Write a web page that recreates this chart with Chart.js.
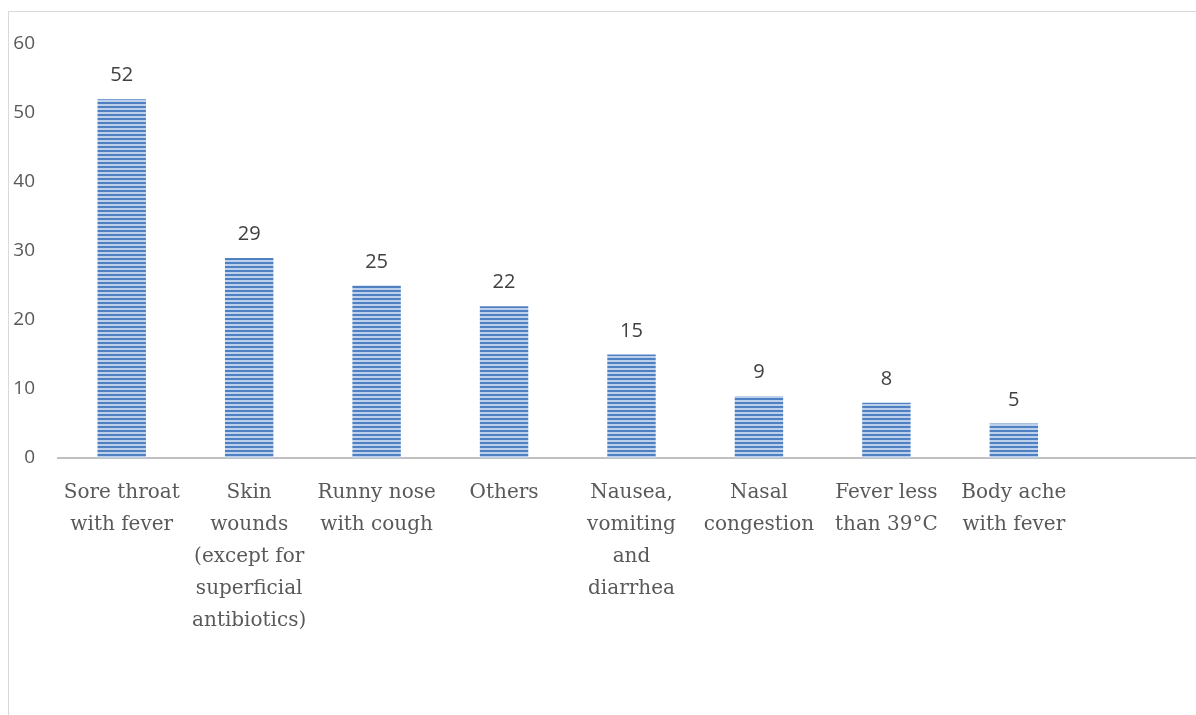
<!DOCTYPE html>
<html>
<head>
<meta charset="utf-8">
<script src="https://cdn.jsdelivr.net/npm/chart.js@4/dist/chart.umd.min.js"></script>
<style>
  html, body { margin: 0; padding: 0; background: #fff; overflow: hidden; width: 1196px; height: 715px; }
  #frame { position: absolute; left: 8px; top: 11px; width: 1300px; height: 800px;
           border-left: 1px solid #d9d9d9; border-top: 1px solid #d9d9d9; }
  #wrap { position: absolute; left: 0; top: 0; width: 1210px; height: 715px; }
</style>
</head>
<body>
<div id="frame"></div>
<div id="wrap"><canvas id="chart" width="1210" height="715"></canvas></div>
<script>
// Reported symptoms (multi-line category labels) and counts
const categories = [
  ['Sore throat', 'with fever'],
  ['Skin', 'wounds', '(except for', 'superficial', 'antibiotics)'],
  ['Runny nose', 'with cough'],
  ['Others'],
  ['Nausea,', 'vomiting', 'and', 'diarrhea'],
  ['Nasal', 'congestion'],
  ['Fever less', 'than 39°C'],
  ['Body ache', 'with fever'],
  ''
];
const counts = [52, 29, 25, 22, 15, 9, 8, 5, null];
const yTicks = [0, 10, 20, 30, 40, 50, 60];

// Horizontal-stripe fill for the bars
function stripePattern() {
  const c = document.createElement('canvas');
  c.width = 4; c.height = 4;
  const g = c.getContext('2d');
  g.fillStyle = '#bccfeb';
  g.fillRect(0, 0, 4, 4);
  g.fillStyle = '#4f80c2';
  g.fillRect(0, 2, 4, 2);
  return g.createPattern(c, 'repeat');
}

// Value labels above each bar
const valueLabels = {
  id: 'valueLabels',
  afterDatasetsDraw(chart) {
    const ctx = chart.ctx;
    const meta = chart.getDatasetMeta(0);
    ctx.save();
    ctx.font = '20px "Open Sans"';
    ctx.fillStyle = '#404040';
    ctx.textAlign = 'center';
    ctx.textBaseline = 'alphabetic';
    meta.data.forEach((el, i) => {
      const v = chart.data.datasets[0].data[i];
      if (v === null || v === undefined) return;
      ctx.fillText(String(v), el.x, el.y - 18);
    });
    ctx.restore();
  }
};

new Chart(document.getElementById('chart'), {
  type: 'bar',
  data: {
    labels: categories,
    datasets: [{
      data: counts,
      backgroundColor: stripePattern(),
      borderWidth: 0,
      barPercentage: 0.38,
      categoryPercentage: 1.0
    }]
  },
  options: {
    responsive: false,
    animation: false,
    layout: { padding: { left: 0, right: 5, top: 44, bottom: 0 } },
    plugins: { legend: { display: false }, tooltip: { enabled: false } },
    scales: {
      x: {
        grid: { display: false, drawTicks: false },
        border: { display: true, color: '#c0c0c0', width: 2 },
        ticks: {
          color: '#595959',
          font: { family: '"DejaVu Serif"', size: 20, lineHeight: 1.6 },
          padding: 19,
          maxRotation: 0,
          autoSkip: false
        },
        afterFit(scale) { scale.height = 257; }
      },
      y: {
        min: 0, max: 60,
        afterBuildTicks(scale) { scale.ticks = yTicks.map(v => ({ value: v })); },
        grid: { display: false, drawTicks: false },
        border: { display: false },
        ticks: {
          color: '#595959',
          font: { family: '"Open Sans"', size: 19 },
          padding: 23
        },
        afterFit(scale) { scale.width = 58; }
      }
    }
  },
  plugins: [valueLabels]
});
</script>
</body>
</html>
